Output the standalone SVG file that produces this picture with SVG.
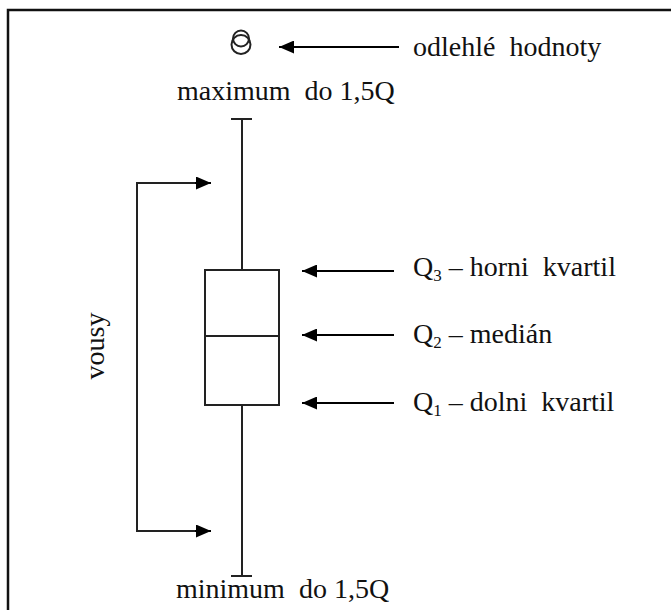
<svg xmlns="http://www.w3.org/2000/svg" width="671" height="610" viewBox="0 0 671 610">
<defs>
<marker id="ah" markerWidth="15" markerHeight="13" refX="15" refY="6.5" orient="auto" markerUnits="userSpaceOnUse">
<path d="M0,0 L15,6.5 L0,13 Z" fill="#000"/>
</marker>
<style>
.t{font-size:28px;fill:#111}
.ln{stroke:#222;stroke-width:2;fill:none}
.ar{stroke:#000;stroke-width:2;fill:none;marker-end:url(#ah)}
</style>
</defs>
<rect x="0" y="0" width="671" height="610" fill="#fff"/>
<rect x="8" y="10" width="700" height="620" fill="none" stroke="#111" stroke-width="2.5"/>
<g id="outlier">
<circle cx="241" cy="44.5" r="9.5" class="ln" stroke-width="2.8"/>
<circle cx="241" cy="38.5" r="8" class="ln" stroke-width="2.8"/>
</g>
<g id="boxplot">
<line x1="231" y1="119" x2="252" y2="119" class="ln"/>
<line x1="242" y1="119" x2="242" y2="270" class="ln"/>
<rect x="205" y="270" width="74" height="135" class="ln"/>
<line x1="205" y1="336" x2="279" y2="336" class="ln"/>
<line x1="242" y1="405" x2="242" y2="576" class="ln"/>
<line x1="231" y1="576" x2="252" y2="576" class="ln"/>
</g>
<g id="connectors">
<line x1="399" y1="47" x2="279" y2="47" class="ar"/>
<line x1="394" y1="271" x2="302" y2="271" class="ar"/>
<line x1="394" y1="335" x2="302" y2="335" class="ar"/>
<line x1="394" y1="403" x2="302" y2="403" class="ar"/>
<polyline points="200,183 137,183 137,531 200,531" class="ln"/>
<line x1="195" y1="183" x2="211" y2="183" class="ar"/>
<line x1="195" y1="531" x2="211" y2="531" class="ar"/>
</g>
<g id="labels" font-family="'Liberation Serif', 'Times New Roman', 'DejaVu Serif', serif">
<text class="t" x="413" y="56">odlehlé&#160; hodnoty</text>
<text class="t" x="177" y="100">maximum&#160; do 1,5Q</text>
<text class="t" x="413" y="276">Q<tspan font-size="17" dy="5">3</tspan><tspan dy="-5">&#160;– horni&#160; kvartil</tspan></text>
<text class="t" x="413" y="343">Q<tspan font-size="17" dy="5">2</tspan><tspan dy="-5">&#160;– medián</tspan></text>
<text class="t" x="413" y="411">Q<tspan font-size="17" dy="5">1</tspan><tspan dy="-5">&#160;– dolni&#160; kvartil</tspan></text>
<text class="t" x="176" y="598">minimum&#160; do 1,5Q</text>
<text class="t" transform="translate(104,346) rotate(-90)" text-anchor="middle">vousy</text>
</g>
</svg>
